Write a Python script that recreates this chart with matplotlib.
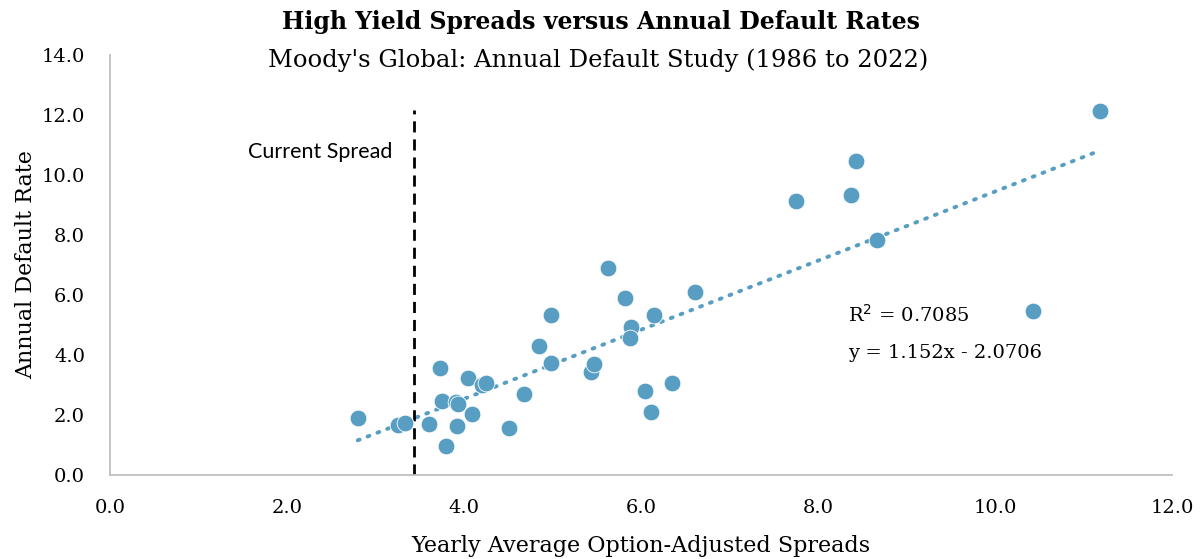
import matplotlib
matplotlib.use("Agg")
import matplotlib.pyplot as plt
import numpy as np

# yearly average OAS vs annual default rate
spreads = [2.80, 3.25, 3.33, 3.60, 3.73, 3.75, 3.80, 3.91, 3.93, 3.92, 4.05, 4.09,
           4.20, 4.25, 4.51, 4.68, 4.85, 4.98, 4.98, 5.43, 5.47, 5.63, 5.82, 5.89,
           5.87, 6.15, 6.05, 6.11, 6.35, 6.61, 7.75, 8.37, 8.43, 8.67, 10.43, 11.19]
defaults = [1.90, 1.67, 1.72, 1.70, 3.58, 2.46, 0.97, 2.42, 2.35, 1.63, 3.22, 2.03,
            3.00, 3.08, 1.56, 2.69, 4.29, 5.33, 3.73, 3.42, 3.70, 6.89, 5.90, 4.94,
            4.58, 5.33, 2.80, 2.09, 3.06, 6.11, 9.12, 9.33, 10.46, 7.82, 5.47, 12.13]

slope = 1.152
intercept = -2.0706
r_squared = 0.7085
current_spread = 3.435

serif = ["DejaVu Serif"]
dot_color = "#579EC2"

fig = plt.figure(figsize=(12.01, 5.59), dpi=100)
ax = fig.add_axes([0.0916, 0.1503, 0.8843, 0.7513])

ax.scatter(spreads, defaults, s=145, color=dot_color, edgecolors="white",
           linewidths=0.6, zorder=3)

xs = np.array([min(spreads), max(spreads)])
ax.plot(xs, slope * xs + intercept, linestyle=(0, (0.5, 2.2)), linewidth=2.8,
        dash_capstyle="round", color=dot_color, zorder=2)

ax.plot([current_spread, current_spread], [0, 12.17], color="black",
        linestyle=(0, (4, 2.5)), linewidth=2, zorder=2)
ax.text(current_spread - 0.25, 10.77, "Current Spread", ha="right", va="center",
        fontsize=15.5, family=["Lato", "DejaVu Sans"])

ax.text(8.34, 5.33, f"R$^2$ = {r_squared:.4f}", ha="left", va="center",
        fontsize=14, family=serif)
ax.text(8.34, 4.07, f"y = {slope:.3f}x - {abs(intercept):.4f}", ha="left",
        va="center", fontsize=14, family=serif)

ticks_x = np.arange(0, 12.1, 2)
ticks_y = np.arange(0, 14.1, 2)
ax.set_xlim(0, 12)
ax.set_ylim(0, 14)
ax.set_xticks(ticks_x)
ax.set_yticks(ticks_y)
ax.set_xticklabels([f"{v:.1f}" for v in ticks_x], family=serif, fontsize=14)
ax.set_yticklabels([f"{v:.1f}" for v in ticks_y], family=serif, fontsize=14)
ax.tick_params(axis="both", length=0)
ax.tick_params(axis="x", pad=17)
ax.tick_params(axis="y", pad=18)

for side in ["top", "right"]:
    ax.spines[side].set_visible(False)
for side in ["left", "bottom"]:
    ax.spines[side].set_color("#BFBFBF")
    ax.spines[side].set_linewidth(1.3)

ax.set_xlabel("Yearly Average Option-Adjusted Spreads", family=serif, fontsize=16, labelpad=13)
ax.set_ylabel("Annual Default Rate", family=serif, fontsize=16, labelpad=3)

fig.text(0.5, 0.96, "High Yield Spreads versus Annual Default Rates", ha="center",
         va="center", fontsize=17, fontweight="bold", family=serif)
fig.text(0.498, 0.893, "Moody's Global: Annual Default Study (1986 to 2022)", ha="center",
         va="center", fontsize=17.5, family=serif)

fig.savefig("out.png", dpi=100)
